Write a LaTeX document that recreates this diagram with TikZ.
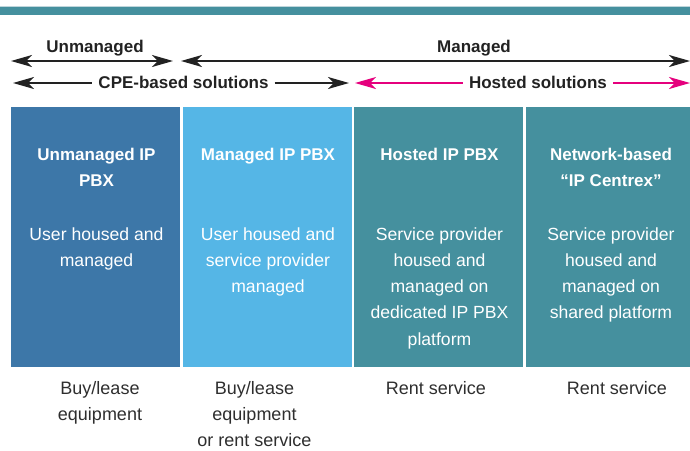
\documentclass[tikz,border=0pt]{standalone}
\usepackage{fontspec}
\setmainfont{Liberation Sans}
\usetikzlibrary{arrows.meta}
\definecolor{teal}{HTML}{45909E}
\definecolor{unmgd}{HTML}{3D77A8}
\definecolor{mgd}{HTML}{55B6E6}
\definecolor{hostpink}{HTML}{E5007D}
\definecolor{ink}{HTML}{222222}
\definecolor{note}{HTML}{2E2E2E}
\definecolor{rule}{HTML}{BFD6DC}
\begin{document}
\begin{tikzpicture}[x=1pt,y=-1pt,
  panel/.style={fill=#1, draw=none, inner sep=0pt, anchor=north west,
    minimum height=260pt},
  % multi-line nodes sit on the baseline of their last line
  ptitle/.style={text=white, inner sep=0pt, anchor=base, align=center,
    font=\fontsize{17}{26.3}\selectfont\bfseries},
  pbody/.style={text=white, inner sep=0pt, anchor=base, align=center,
    font=\fontsize{17.6}{26.3}\selectfont},
  cost/.style={text=note, inner sep=0pt, anchor=base, align=center,
    font=\fontsize{18}{26}\selectfont},
  scope label/.style={text=ink, inner sep=0pt, anchor=base,
    font=\fontsize{17}{20}\selectfont\bfseries},
  gap label/.style={scope label, inner xsep=6pt},
  tipshape/.style={arrows={Stealth[length=21pt,width=12pt,inset=6pt]-Stealth[length=21pt,width=12pt,inset=6pt]}},
  span/.style={draw=#1, line width=2pt},
  span/.default=ink,
  lefthalf/.style={span=#1, arrows={Stealth[length=21pt,width=12pt,inset=6pt]-}},
  righthalf/.style={span=#1, arrows={-Stealth[length=21pt,width=12pt,inset=6pt]}},
]
\useasboundingbox (0,0) rectangle (690,450);

% header band
\fill[rule] (0,5.5) rectangle (690,7);
\fill[teal] (0,7) rectangle (690,15);

% management scope arrows
\coordinate (u1) at (11,61);
\coordinate (u2) at (173,61);
\coordinate (m1) at (181,61);
\coordinate (m2) at (690,61);
\draw[span, tipshape] (u1) -- (u2);
\draw[span, tipshape] (m1) -- (m2);
\node[scope label] (lunm) at (95,52) {Unmanaged};
\node[scope label] (lmgd) at (474,52) {Managed};

% solution type arrows
\coordinate (c1) at (13,83);
\coordinate (c2) at (349,83);
\coordinate (h1) at (355,83);
\coordinate (h2) at (690,83);
\node[gap label] (lcpe) at (183.5,88.5) {CPE-based solutions};
\node[gap label] (lhost) at (538,88.5) {Hosted solutions};
\draw[lefthalf=ink] (c1) -- (lcpe.west |- c1);
\draw[righthalf=ink] (lcpe.east |- c2) -- (c2);
\draw[lefthalf=hostpink] (h1) -- (lhost.west |- h1);
\draw[righthalf=hostpink] (lhost.east |- h2) -- (h2);

% panels
\node[panel=unmgd, minimum width=169pt] (p1) at (11,107) {};
\node[panel=mgd, minimum width=169pt] (p2) at (183,107) {};
\node[panel=teal, minimum width=169pt] (p3) at (354,107) {};
\node[panel=teal, minimum width=164pt] (p4) at (526,107) {};

% panel titles (first baseline at 160)
\node[ptitle] (t1) at (96.5,186.3) {Unmanaged IP\\PBX};
\node[ptitle] (t2) at (268,160) {Managed IP PBX};
\node[ptitle] (t3) at (439.5,160) {Hosted IP PBX};
\node[ptitle] (t4) at (611,186.3) {Network-based\\“IP Centrex”};

% panel descriptions (first baseline at 240)
\node[pbody] (d1) at (96.5,266.3) {User housed and\\managed};
\node[pbody] (d2) at (268,292.6) {User housed and\\service provider\\managed};
\node[pbody] (d3) at (439.5,345.2) {Service provider\\housed and\\managed on\\dedicated IP PBX\\platform};
\node[pbody] (d4) at (611,318.9) {Service provider\\housed and\\managed on\\shared platform};

% cost models (first baseline at 394)
\node[cost] (k1) at (100,420) {Buy/lease\\equipment};
\node[cost] (k2) at (254.5,446) {Buy/lease\\equipment\\or rent service};
\node[cost] (k3) at (436,394) {Rent service};
\node[cost] (k4) at (617,394) {Rent service};
\end{tikzpicture}
\end{document}
